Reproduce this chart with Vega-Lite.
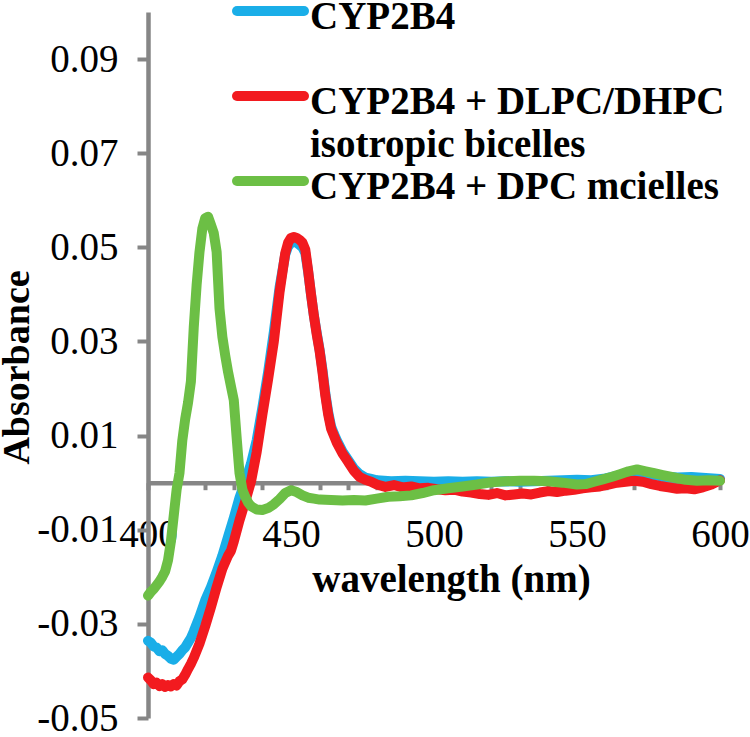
{
  "$schema": "https://vega.github.io/schema/vega-lite/v6.json",
  "width": 572,
  "height": 706,
  "autosize": {"type": "none"},
  "padding": {"left": 148, "top": 12, "right": 30, "bottom": 19},
  "background": "white",
  "config": {
    "view": {"stroke": null},
    "font": "Liberation Serif",
    "locale": {"number": {"decimal": ".", "thousands": ",", "grouping": [3], "currency": ["$", ""], "minus": "-"}}
  },
  "datasets": {
    "names": [
      {"s": "b", "sample": "CYP2B4"},
      {"s": "r", "sample": "CYP2B4 + DLPC/DHPC isotropic bicelles"},
      {"s": "g", "sample": "CYP2B4 + DPC mcielles"}
    ],
    "spectra": [
      {"s":"b","x":400,"y":-0.0336},{"s":"b","x":401,"y":-0.0340},{"s":"b","x":402,"y":-0.0348},{"s":"b","x":403,"y":-0.0350},{"s":"b","x":404,"y":-0.0358},{"s":"b","x":405,"y":-0.0356},{"s":"b","x":406,"y":-0.0364},{"s":"b","x":407,"y":-0.0368},{"s":"b","x":408,"y":-0.0374},{"s":"b","x":409,"y":-0.0376},{"s":"b","x":410,"y":-0.0370},{"s":"b","x":411,"y":-0.0364},{"s":"b","x":412,"y":-0.0356},{"s":"b","x":413,"y":-0.0350},{"s":"b","x":414,"y":-0.0340},{"s":"b","x":415,"y":-0.0330},{"s":"b","x":416,"y":-0.0316},{"s":"b","x":418,"y":-0.0285},{"s":"b","x":420,"y":-0.0250},{"s":"b","x":422,"y":-0.0222},{"s":"b","x":424,"y":-0.0190},{"s":"b","x":426,"y":-0.0155},{"s":"b","x":428,"y":-0.0115},{"s":"b","x":430,"y":-0.0075},{"s":"b","x":432,"y":-0.0032},{"s":"b","x":434,"y":0.0002},{"s":"b","x":436,"y":0.0040},{"s":"b","x":438,"y":0.0090},{"s":"b","x":440,"y":0.0160},{"s":"b","x":442,"y":0.0235},{"s":"b","x":444,"y":0.0320},{"s":"b","x":446,"y":0.0415},{"s":"b","x":448,"y":0.0485},{"s":"b","x":449,"y":0.0502},{"s":"b","x":450,"y":0.0510},{"s":"b","x":451,"y":0.0512},{"s":"b","x":452,"y":0.0510},{"s":"b","x":453,"y":0.0505},{"s":"b","x":454,"y":0.0500},{"s":"b","x":455,"y":0.0488},{"s":"b","x":456,"y":0.0448},{"s":"b","x":457,"y":0.0400},{"s":"b","x":458,"y":0.0355},{"s":"b","x":459,"y":0.0318},{"s":"b","x":460,"y":0.0282},{"s":"b","x":461,"y":0.0240},{"s":"b","x":462,"y":0.0190},{"s":"b","x":463,"y":0.0150},{"s":"b","x":464,"y":0.0120},{"s":"b","x":465,"y":0.0104},{"s":"b","x":466,"y":0.0090},{"s":"b","x":468,"y":0.0066},{"s":"b","x":470,"y":0.0048},{"s":"b","x":472,"y":0.0030},{"s":"b","x":474,"y":0.0018},{"s":"b","x":476,"y":0.0011},{"s":"b","x":478,"y":0.0008},{"s":"b","x":480,"y":0.0005},{"s":"b","x":485,"y":0.0003},{"s":"b","x":490,"y":0.0004},{"s":"b","x":495,"y":0.0003},{"s":"b","x":500,"y":0.0002},{"s":"b","x":505,"y":0.0003},{"s":"b","x":510,"y":0.0002},{"s":"b","x":515,"y":0.0003},{"s":"b","x":520,"y":0.0002},{"s":"b","x":525,"y":0.0003},{"s":"b","x":530,"y":0.0002},{"s":"b","x":535,"y":0.0003},{"s":"b","x":540,"y":0.0004},{"s":"b","x":545,"y":0.0005},{"s":"b","x":550,"y":0.0006},{"s":"b","x":555,"y":0.0005},{"s":"b","x":560,"y":0.0009},{"s":"b","x":565,"y":0.0016},{"s":"b","x":570,"y":0.0022},{"s":"b","x":575,"y":0.0018},{"s":"b","x":580,"y":0.0013},{"s":"b","x":585,"y":0.0011},{"s":"b","x":590,"y":0.0012},{"s":"b","x":595,"y":0.0010},{"s":"b","x":600,"y":0.0008},
      {"s":"r","x":400,"y":-0.0414},{"s":"r","x":401,"y":-0.0420},{"s":"r","x":402,"y":-0.0428},{"s":"r","x":403,"y":-0.0425},{"s":"r","x":404,"y":-0.0432},{"s":"r","x":405,"y":-0.0428},{"s":"r","x":406,"y":-0.0434},{"s":"r","x":407,"y":-0.0430},{"s":"r","x":408,"y":-0.0433},{"s":"r","x":409,"y":-0.0428},{"s":"r","x":410,"y":-0.0431},{"s":"r","x":411,"y":-0.0422},{"s":"r","x":412,"y":-0.0418},{"s":"r","x":413,"y":-0.0408},{"s":"r","x":414,"y":-0.0396},{"s":"r","x":415,"y":-0.0385},{"s":"r","x":416,"y":-0.0372},{"s":"r","x":418,"y":-0.0342},{"s":"r","x":420,"y":-0.0305},{"s":"r","x":422,"y":-0.0265},{"s":"r","x":424,"y":-0.0222},{"s":"r","x":426,"y":-0.0183},{"s":"r","x":428,"y":-0.0155},{"s":"r","x":429,"y":-0.0145},{"s":"r","x":430,"y":-0.0125},{"s":"r","x":432,"y":-0.0080},{"s":"r","x":434,"y":-0.0040},{"s":"r","x":436,"y":0.0002},{"s":"r","x":438,"y":0.0065},{"s":"r","x":440,"y":0.0145},{"s":"r","x":442,"y":0.0220},{"s":"r","x":444,"y":0.0300},{"s":"r","x":446,"y":0.0405},{"s":"r","x":448,"y":0.0488},{"s":"r","x":449,"y":0.0510},{"s":"r","x":450,"y":0.0520},{"s":"r","x":451,"y":0.0522},{"s":"r","x":452,"y":0.0520},{"s":"r","x":453,"y":0.0516},{"s":"r","x":454,"y":0.0510},{"s":"r","x":455,"y":0.0495},{"s":"r","x":456,"y":0.0450},{"s":"r","x":457,"y":0.0400},{"s":"r","x":458,"y":0.0355},{"s":"r","x":459,"y":0.0315},{"s":"r","x":460,"y":0.0280},{"s":"r","x":461,"y":0.0235},{"s":"r","x":462,"y":0.0185},{"s":"r","x":463,"y":0.0145},{"s":"r","x":464,"y":0.0115},{"s":"r","x":465,"y":0.0100},{"s":"r","x":466,"y":0.0085},{"s":"r","x":468,"y":0.0062},{"s":"r","x":470,"y":0.0044},{"s":"r","x":472,"y":0.0025},{"s":"r","x":474,"y":0.0012},{"s":"r","x":476,"y":0.0006},{"s":"r","x":478,"y":0.0002},{"s":"r","x":480,"y":-0.0004},{"s":"r","x":483,"y":-0.0009},{"s":"r","x":486,"y":-0.0005},{"s":"r","x":489,"y":-0.0010},{"s":"r","x":492,"y":-0.0008},{"s":"r","x":495,"y":-0.0012},{"s":"r","x":498,"y":-0.0011},{"s":"r","x":501,"y":-0.0014},{"s":"r","x":504,"y":-0.0016},{"s":"r","x":507,"y":-0.0015},{"s":"r","x":510,"y":-0.0019},{"s":"r","x":513,"y":-0.0021},{"s":"r","x":516,"y":-0.0024},{"s":"r","x":519,"y":-0.0026},{"s":"r","x":522,"y":-0.0022},{"s":"r","x":525,"y":-0.0027},{"s":"r","x":528,"y":-0.0025},{"s":"r","x":531,"y":-0.0023},{"s":"r","x":534,"y":-0.0025},{"s":"r","x":537,"y":-0.0021},{"s":"r","x":540,"y":-0.0018},{"s":"r","x":543,"y":-0.0020},{"s":"r","x":546,"y":-0.0017},{"s":"r","x":549,"y":-0.0015},{"s":"r","x":552,"y":-0.0012},{"s":"r","x":555,"y":-0.0010},{"s":"r","x":558,"y":-0.0008},{"s":"r","x":561,"y":-0.0004},{"s":"r","x":564,"y":0.0000},{"s":"r","x":567,"y":0.0002},{"s":"r","x":570,"y":0.0004},{"s":"r","x":573,"y":0.0002},{"s":"r","x":576,"y":-0.0003},{"s":"r","x":579,"y":-0.0007},{"s":"r","x":582,"y":-0.0010},{"s":"r","x":585,"y":-0.0013},{"s":"r","x":588,"y":-0.0012},{"s":"r","x":591,"y":-0.0014},{"s":"r","x":594,"y":-0.0010},{"s":"r","x":597,"y":-0.0004},{"s":"r","x":600,"y":0.0005},
      {"s":"g","x":400,"y":-0.0240},{"s":"g","x":401,"y":-0.0232},{"s":"g","x":402,"y":-0.0226},{"s":"g","x":403,"y":-0.0218},{"s":"g","x":404,"y":-0.0210},{"s":"g","x":405,"y":-0.0200},{"s":"g","x":406,"y":-0.0188},{"s":"g","x":407,"y":-0.0165},{"s":"g","x":408,"y":-0.0125},{"s":"g","x":409,"y":-0.0070},{"s":"g","x":410,"y":-0.0015},{"s":"g","x":411,"y":0.0020},{"s":"g","x":412,"y":0.0090},{"s":"g","x":413,"y":0.0135},{"s":"g","x":414,"y":0.0170},{"s":"g","x":415,"y":0.0215},{"s":"g","x":416,"y":0.0330},{"s":"g","x":417,"y":0.0420},{"s":"g","x":418,"y":0.0490},{"s":"g","x":419,"y":0.0540},{"s":"g","x":420,"y":0.0562},{"s":"g","x":421,"y":0.0565},{"s":"g","x":422,"y":0.0548},{"s":"g","x":423,"y":0.0530},{"s":"g","x":424,"y":0.0490},{"s":"g","x":425,"y":0.0370},{"s":"g","x":426,"y":0.0310},{"s":"g","x":427,"y":0.0270},{"s":"g","x":428,"y":0.0235},{"s":"g","x":429,"y":0.0205},{"s":"g","x":430,"y":0.0175},{"s":"g","x":431,"y":0.0095},{"s":"g","x":432,"y":0.0020},{"s":"g","x":433,"y":-0.0015},{"s":"g","x":434,"y":-0.0030},{"s":"g","x":435,"y":-0.0042},{"s":"g","x":436,"y":-0.0050},{"s":"g","x":438,"y":-0.0057},{"s":"g","x":440,"y":-0.0058},{"s":"g","x":442,"y":-0.0054},{"s":"g","x":444,"y":-0.0046},{"s":"g","x":446,"y":-0.0035},{"s":"g","x":448,"y":-0.0022},{"s":"g","x":450,"y":-0.0016},{"s":"g","x":452,"y":-0.0020},{"s":"g","x":454,"y":-0.0027},{"s":"g","x":456,"y":-0.0032},{"s":"g","x":458,"y":-0.0034},{"s":"g","x":460,"y":-0.0036},{"s":"g","x":464,"y":-0.0037},{"s":"g","x":468,"y":-0.0038},{"s":"g","x":472,"y":-0.0037},{"s":"g","x":476,"y":-0.0038},{"s":"g","x":480,"y":-0.0034},{"s":"g","x":484,"y":-0.0030},{"s":"g","x":488,"y":-0.0029},{"s":"g","x":492,"y":-0.0027},{"s":"g","x":496,"y":-0.0022},{"s":"g","x":500,"y":-0.0016},{"s":"g","x":505,"y":-0.0012},{"s":"g","x":510,"y":-0.0008},{"s":"g","x":515,"y":-0.0004},{"s":"g","x":520,"y":0.0001},{"s":"g","x":525,"y":0.0003},{"s":"g","x":530,"y":0.0004},{"s":"g","x":535,"y":0.0004},{"s":"g","x":540,"y":0.0003},{"s":"g","x":545,"y":0.0000},{"s":"g","x":550,"y":-0.0004},{"s":"g","x":553,"y":-0.0003},{"s":"g","x":556,"y":0.0002},{"s":"g","x":559,"y":0.0007},{"s":"g","x":562,"y":0.0012},{"s":"g","x":565,"y":0.0018},{"s":"g","x":568,"y":0.0024},{"s":"g","x":571,"y":0.0028},{"s":"g","x":574,"y":0.0024},{"s":"g","x":577,"y":0.0020},{"s":"g","x":580,"y":0.0016},{"s":"g","x":584,"y":0.0011},{"s":"g","x":588,"y":0.0006},{"s":"g","x":592,"y":0.0004},{"s":"g","x":596,"y":0.0005},{"s":"g","x":600,"y":0.0004}
    ]
  },
  "data": {"name": "spectra"},
  "transform": [
    {"lookup": "s", "from": {"data": {"name": "names"}, "key": "s", "fields": ["sample"]}}
  ],
  "mark": {"type": "line", "strokeWidth": 10, "strokeJoin": "round", "strokeCap": "round"},
  "encoding": {
    "x": {
      "field": "x", "type": "quantitative",
      "scale": {"domain": [400, 600], "nice": false, "zero": false},
      "axis": {
        "title": "wavelength (nm)",
        "values": [400,410,420,430,440,450,460,470,480,490,500,510,520,530,540,550,560,570,580,590,600],
        "labelExpr": "datum.value % 50 === 0 ? datum.label : ''",
        "offset": -235.3,
        "grid": false,
        "domainColor": "#868686", "domainWidth": 4.5,
        "tickColor": "#868686", "tickWidth": 4, "tickSize": 7,
        "labelFont": "Liberation Serif", "labelFontSize": 39, "labelColor": "black",
        "labelBaseline": "alphabetic", "labelPadding": 57, "labelFlush": false, "labelOverlap": false,
        "titleFont": "Liberation Serif", "titleFontSize": 39, "titleFontWeight": "bold", "titleColor": "black",
        "titleX": 303, "titleY": 109, "titleBaseline": "alphabetic", "titleAlign": "center"
      }
    },
    "y": {
      "field": "y", "type": "quantitative",
      "scale": {"domain": [-0.05, 0.10], "nice": false, "zero": false},
      "axis": {
        "title": "Absorbance",
        "values": [-0.05, -0.03, -0.01, 0.01, 0.03, 0.05, 0.07, 0.09],
        "format": ".2f",
        "grid": false,
        "domainColor": "#868686", "domainWidth": 4.5,
        "tickColor": "#868686", "tickWidth": 4, "tickSize": 11,
        "labelFont": "Liberation Serif", "labelFontSize": 39, "labelColor": "black", "labelPadding": 19, "labelOverlap": false, "labelFlush": false,
        "titleFont": "Liberation Serif", "titleFontSize": 38, "titleFontWeight": "bold", "titleColor": "black",
        "titleAngle": 270, "titleX": -120, "titleY": 355, "titleBaseline": "alphabetic", "titleAlign": "center"
      }
    },
    "color": {
      "field": "sample", "type": "nominal",
      "scale": {
        "domain": ["CYP2B4", "CYP2B4 + DLPC/DHPC isotropic bicelles", "CYP2B4 + DPC mcielles"],
        "range": ["#1aaee8", "#f21a1f", "#6cbf45"]
      },
      "legend": {
        "title": null,
        "orient": "none",
        "legendX": 84,
        "legendY": -12,
        "padding": 0,
        "rowPadding": 0,
        "clipHeight": 82,
        "symbolType": "stroke",
        "symbolSize": 4489,
        "symbolStrokeWidth": 10,
        "labelFont": "Liberation Serif", "labelFontSize": 39, "labelFontWeight": "bold", "labelColor": "black",
        "labelLimit": 700, "labelOffset": 1,
        "labelExpr": "datum.label == 'CYP2B4 + DLPC/DHPC isotropic bicelles' ? ['CYP2B4 + DLPC/DHPC', 'isotropic bicelles'] : datum.label",
        "encode": {
          "symbols": {"update": {"strokeCap": {"value": "round"}, "y": {"value": 11}}},
          "labels": {"update": {"y": {"value": 16.5}, "lineHeight": {"value": 43}}}
        }
      }
    }
  }
}
